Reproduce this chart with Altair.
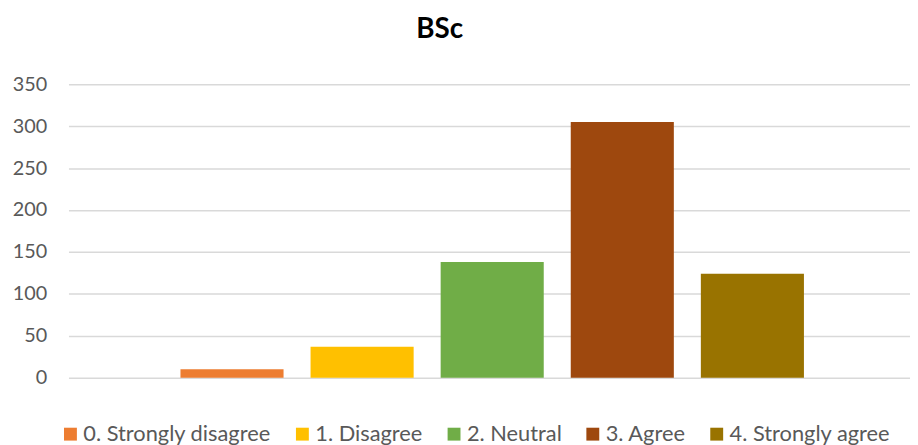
import altair as alt
import pandas as pd

categories = ["0. Strongly disagree", "1. Disagree", "2. Neutral", "3. Agree", "4. Strongly agree"]
values = [10, 37, 138, 305, 124]
colors = ["#ED7D31", "#FFC000", "#70AD47", "#9E480E", "#997300"]
y_ticks = [0, 50, 100, 150, 200, 250, 300, 350]

df = pd.DataFrame({"Response": categories, "Count": values})

FONT = "Lato"

chart = (
    alt.Chart(df)
    .mark_bar()
    .encode(
        x=alt.X(
            "Response:N",
            sort=categories,
            scale=alt.Scale(paddingInner=0.2076, paddingOuter=0.8381, align=0.5136),
            axis=alt.Axis(labels=False, ticks=False, title=None, domain=False, grid=False),
        ),
        y=alt.Y(
            "Count:Q",
            scale=alt.Scale(domain=[0, 350], nice=False),
            axis=alt.Axis(values=y_ticks, title=None, domain=False, ticks=False,
                          gridColor="#D9D9D9", gridWidth=1.5, labelColor="#595959",
                          labelFontSize=20, labelFont=FONT, labelPadding=22),
        ),
        color=alt.Color(
            "Response:N",
            sort=categories,
            scale=alt.Scale(domain=categories, range=colors),
            legend=alt.Legend(
                title=None, orient="none", direction="horizontal", columns=5,
                legendX=-9, legendY=342, symbolType="square", symbolSize=169,
                symbolStrokeWidth=0, labelFontSize=22, labelFont=FONT, labelLimit=0,
                labelColor="#595959", labelOffset=2, columnPadding=20,
            ),
        ),
    )
    .properties(
        width=849,
        height=296,
        autosize=alt.AutoSizeParams(type="none"),
        padding={"left": 61, "top": 75, "right": 0, "bottom": 66},
        title=alt.TitleParams(
            "BSc", font=FONT, fontSize=28, fontWeight="bold", color="#000000",
            anchor="middle", dx=-50, offset=9, baseline="alphabetic",
        ),
    )
    .configure_view(stroke=None)
)

chart.save("out.html", embed_options={"renderer": "svg", "actions": False})
